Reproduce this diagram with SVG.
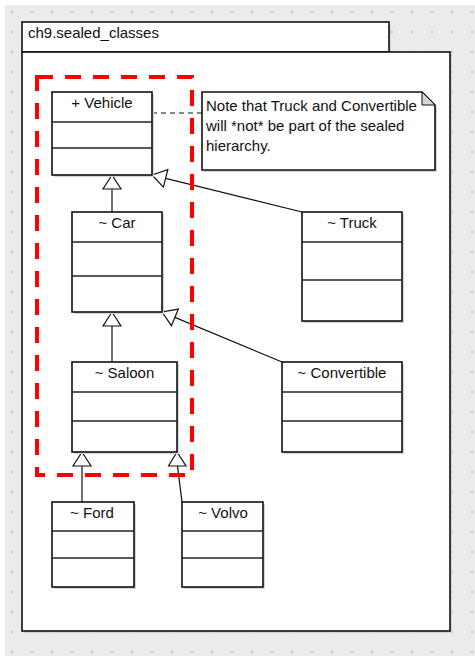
<svg xmlns="http://www.w3.org/2000/svg" width="475" height="656" viewBox="0 0 475 656">
<style>
text{font-family:"Liberation Sans",Arial,sans-serif;font-size:15px;fill:#111}
.lbl{text-anchor:middle}
.box{fill:#fff;stroke:#111;stroke-width:1.6}
.div{stroke:#222;stroke-width:1.5}
.sh{fill:#d4d4d4}
.conn{stroke:#111;stroke-width:1.2;fill:none}
.tri{fill:#fff;stroke:#111;stroke-width:1.2;stroke-linejoin:miter}
</style>
<defs>
<pattern id="grid" patternUnits="userSpaceOnUse" x="2" y="2" width="20" height="20">
<path d="M8.5 10h3M10 8.5v3" stroke="#c4c4c4" stroke-width="1"/>
</pattern>
</defs>
<rect x="0" y="0" width="475" height="656" fill="#fff"/>
<rect x="5" y="5" width="470" height="651" fill="#ececec"/>
<rect x="5" y="5" width="470" height="651" fill="url(#grid)"/>

<g id="package">
<rect class="sh" x="24" y="24" width="367" height="30"/>
<rect class="sh" x="24" y="54" width="428" height="579"/>
<rect class="box" x="22" y="22" width="367" height="30"/>
<rect class="box" x="22" y="52" width="428" height="579"/>
<text x="28" y="38">ch9.sealed_classes</text>
</g>

<g id="connectors">
<line x1="152" y1="113" x2="202" y2="113" stroke="#111" stroke-width="1.2" stroke-dasharray="5,4"/>
<line class="conn" x1="112" y1="189" x2="112" y2="212"/>
<polygon class="tri" points="112,175 103,189 121,189"/>
<line class="conn" x1="165.6" y1="178.4" x2="302" y2="212"/>
<polygon class="tri" points="152,175 163.4,187.1 167.8,169.6"/>
<line class="conn" x1="112" y1="326" x2="112" y2="362"/>
<polygon class="tri" points="112,312 103,326 121,326"/>
<line class="conn" x1="174.9" y1="317.4" x2="282" y2="362"/>
<polygon class="tri" points="162,312 171.4,325.7 178.4,309.1"/>
<line class="conn" x1="82" y1="466" x2="82" y2="502"/>
<polygon class="tri" points="82,452 73,466 91,466"/>
<line class="conn" x1="177.5" y1="466" x2="182" y2="502"/>
<polygon class="tri" points="177,452 168.5,466 186,466"/>
</g>

<g id="Vehicle">
<rect class="sh" x="54" y="94" width="100" height="83"/>
<rect class="box" x="52" y="92" width="100" height="83"/>
<line class="div" x1="52" y1="122" x2="152" y2="122"/>
<line class="div" x1="52" y1="148" x2="152" y2="148"/>
<text class="lbl" x="102" y="108">+ Vehicle</text>
</g>

<g id="Car">
<rect class="sh" x="74" y="214" width="90" height="100"/>
<rect class="box" x="72" y="212" width="90" height="100"/>
<line class="div" x1="72" y1="242" x2="162" y2="242"/>
<line class="div" x1="72" y1="276" x2="162" y2="276"/>
<text class="lbl" x="117" y="228">~ Car</text>
</g>

<g id="Truck">
<rect class="sh" x="304" y="214" width="100" height="109"/>
<rect class="box" x="302" y="212" width="100" height="109"/>
<line class="div" x1="302" y1="242" x2="402" y2="242"/>
<line class="div" x1="302" y1="280" x2="402" y2="280"/>
<text class="lbl" x="352" y="228">~ Truck</text>
</g>

<g id="Saloon">
<rect class="sh" x="74" y="364" width="105" height="90"/>
<rect class="box" x="72" y="362" width="105" height="90"/>
<line class="div" x1="72" y1="392" x2="177" y2="392"/>
<line class="div" x1="72" y1="421" x2="177" y2="421"/>
<text class="lbl" x="124.5" y="378">~ Saloon</text>
</g>

<g id="Convertible">
<rect class="sh" x="284" y="364" width="120" height="90"/>
<rect class="box" x="282" y="362" width="120" height="90"/>
<line class="div" x1="282" y1="392" x2="402" y2="392"/>
<line class="div" x1="282" y1="421" x2="402" y2="421"/>
<text class="lbl" x="342" y="378">~ Convertible</text>
</g>

<g id="Ford">
<rect class="sh" x="54" y="504" width="82" height="85"/>
<rect class="box" x="52" y="502" width="82" height="85"/>
<line class="div" x1="52" y1="531" x2="134" y2="531"/>
<line class="div" x1="52" y1="558" x2="134" y2="558"/>
<text class="lbl" x="92" y="518">~ Ford</text>
</g>

<g id="Volvo">
<rect class="sh" x="184" y="504" width="81" height="85"/>
<rect class="box" x="182" y="502" width="81" height="85"/>
<line class="div" x1="182" y1="531" x2="263" y2="531"/>
<line class="div" x1="182" y1="558" x2="263" y2="558"/>
<text class="lbl" x="223" y="518">~ Volvo</text>
</g>

<g id="note">
<polygon class="sh" points="204,94 424,94 437,107 437,172 204,172"/>
<polygon class="box" points="202,92 422,92 435,105 435,170 202,170"/>
<polygon points="422,92 422,105 435,105" fill="#d6d6d6" stroke="#111" stroke-width="1"/>
<text x="206" y="111">Note that Truck and Convertible</text>
<text x="206" y="131">will *not* be part of the sealed</text>
<text x="206" y="151">hierarchy.</text>
</g>

<g id="sealed-boundary">
<rect x="37" y="77" width="155" height="398" fill="none" stroke="#f00" stroke-width="4" stroke-dasharray="16,12"/>
</g>
</svg>
